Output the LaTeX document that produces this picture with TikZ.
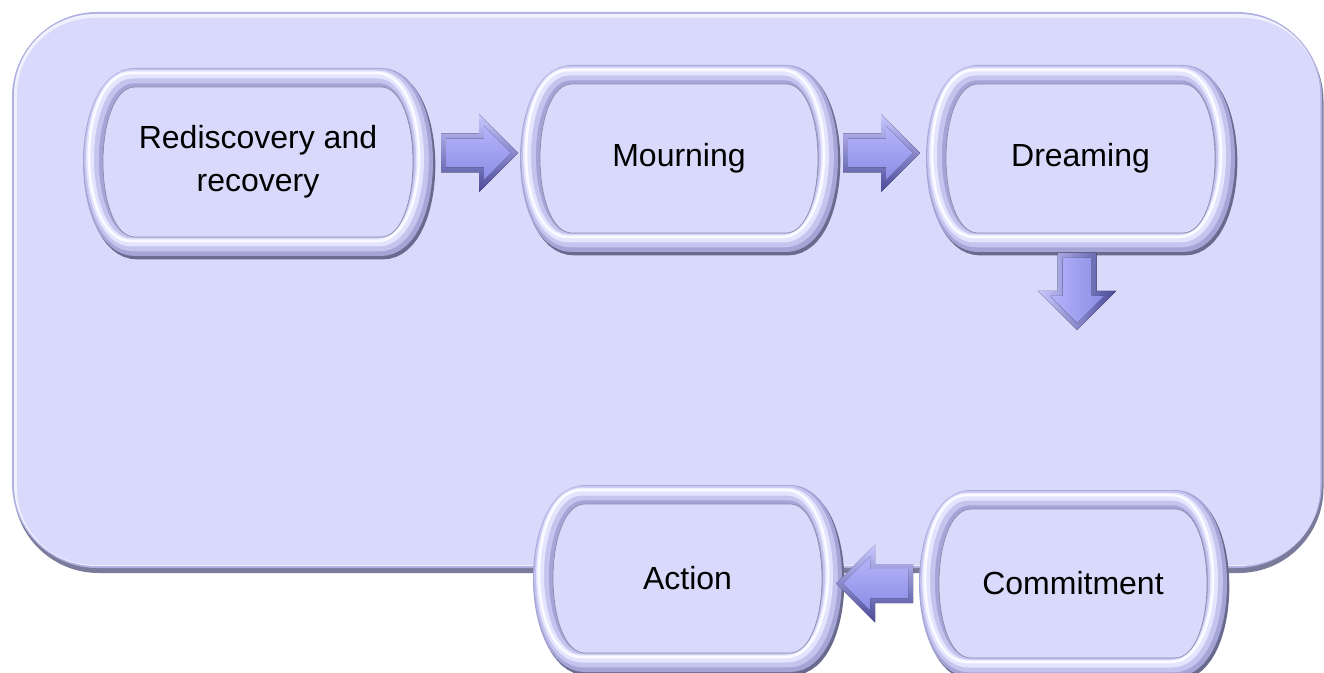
\documentclass[tikz,border=0pt]{standalone}
\usepackage{fontspec}
\setmainfont{Liberation Sans}
\usetikzlibrary{calc}
\definecolor{bgfill}{HTML}{D9D9FC}
\definecolor{bgrim}{HTML}{B0B0E2}
\definecolor{bghigh}{HTML}{F0F0FF}
\definecolor{bgshadow}{HTML}{7A7A9A}
\definecolor{rimshadow}{HTML}{6A6A8E}
\definecolor{rimbase}{HTML}{A4A4D6}
\definecolor{rimmid}{HTML}{C4C4EE}
\definecolor{rimlight}{HTML}{E4E4FF}
\definecolor{facefill}{HTML}{D9D9FC}
\definecolor{faceline}{HTML}{8A8AAA}
\definecolor{arrlight}{HTML}{C8C8FF}
\definecolor{arrdark}{HTML}{4A4A98}
\definecolor{arrfaceA}{HTML}{B4B4FA}
\definecolor{arrfaceB}{HTML}{8C8CE6}
% barrel-shaped box: cx cy hw hh rx options
\newcommand\ERpath[6]{%
  \path[#6] ({(#1)-(#3)+(#5)},{(#2)+(#4)}) -- ({(#1)+(#3)-(#5)},{(#2)+(#4)})
    .. controls ({(#1)+(#3)-0.35*(#5)},{(#2)+(#4)}) and ({(#1)+(#3)},{(#2)+0.5*(#4)}) .. ({(#1)+(#3)},{#2})
    .. controls ({(#1)+(#3)},{(#2)-0.5*(#4)}) and ({(#1)+(#3)-0.35*(#5)},{(#2)-(#4)}) .. ({(#1)+(#3)-(#5)},{(#2)-(#4)})
    -- ({(#1)-(#3)+(#5)},{(#2)-(#4)})
    .. controls ({(#1)-(#3)+0.35*(#5)},{(#2)-(#4)}) and ({(#1)-(#3)},{(#2)-0.5*(#4)}) .. ({(#1)-(#3)},{#2})
    .. controls ({(#1)-(#3)},{(#2)+0.5*(#4)}) and ({(#1)-(#3)+0.35*(#5)},{(#2)+(#4)}) .. cycle;}
\newcommand\bevelbox[4]{%
  \ERpath{(#1)+2}{(#2)-3}{(#3)-10}{(#4)-10}{42}{draw=rimshadow,line width=15.5pt}
  \ERpath{#1}{#2}{(#3)-10}{(#4)-10}{42}{draw=rimbase,line width=15pt}
  \ERpath{(#1)-1.5}{(#2)+2}{(#3)-10}{(#4)-10}{42}{draw=rimmid,line width=11pt}
  \ERpath{(#1)-3}{(#2)+3.5}{(#3)-10}{(#4)-10}{42}{draw=rimlight,line width=6pt}
  \ERpath{(#1)-4}{(#2)+5}{(#3)-10}{(#4)-10}{42}{draw=white,line width=2pt,draw opacity=0.85}
  \ERpath{#1}{#2}{(#3)-20}{(#4)-19}{32}{fill=facefill,draw=faceline,line width=0.5pt}}
% block arrow: tail point, rotation, outer shading, face shading
\newcommand\blockarrow[4]{%
  \begin{scope}[shift={(#1)},rotate=#2]
    \fill[#3] (0,19.5) -- (38,19.5) -- (38,39) -- (77,0) -- (38,-39) -- (38,-19.5) -- (0,-19.5) -- cycle;
    \fill[#4] (5,14.5) -- (43,14.5) -- (43,27) -- (70,0) -- (43,-27) -- (43,-14.5) -- (5,-14.5) -- cycle;
  \end{scope}}
\begin{document}
\begin{tikzpicture}[x=0.75pt,y=0.75pt,
  stepbox/.style={draw=none,inner sep=0pt,outer sep=0pt,align=center,
    font=\fontsize{24}{32}\selectfont},
  harrow/.style={top color=arrlight,bottom color=arrdark},
  harrowface/.style={top color=arrfaceA,bottom color=arrfaceB},
  varrow/.style={left color=arrlight,right color=arrdark},
  varrowface/.style={left color=arrfaceA,right color=arrfaceB}]
\useasboundingbox (0,0) rectangle (1324,672);
\clip (0,0) rectangle (1324,672);
\fill[white] (0,0) rectangle (1324,672);
% background panel
\fill[bgshadow, rounded corners=63.75pt] (13.5,99) rectangle (1323.5,656);
\fill[bgrim, rounded corners=63.75pt] (12,104) rectangle (1322,660);
\fill[bghigh, rounded corners=61pt] (14,106) rectangle (1320,658);
\fill[bgfill, rounded corners=58pt] (17,107) rectangle (1320,654);
% bevelled boxes
\bevelbox{258}{510}{175}{94}
\bevelbox{679}{513.5}{159}{93.5}
\bevelbox{1080.5}{513.5}{154.5}{93.5}
\bevelbox{687.5}{93.5}{154.5}{93.5}
\bevelbox{1073}{88.5}{154}{93.5}
% labelled nodes
\node[stepbox,minimum width=262.5pt,minimum height=141pt] (R) at (258,510) {Rediscovery and\\recovery};
\node[stepbox,minimum width=238.5pt,minimum height=140.25pt] (M) at (679,513.5) {Mourning};
\node[stepbox,minimum width=231.75pt,minimum height=140.25pt] (D) at (1080.5,513.5) {Dreaming};
\node[stepbox,minimum width=231.75pt,minimum height=140.25pt] (A) at (687.5,93.5) {Action};
\node[stepbox,minimum width=231pt,minimum height=140.25pt] (C) at (1073,88.5) {Commitment};
% block arrows
\blockarrow{$(R.east)+(8,9)$}{0}{harrow}{harrowface}
\blockarrow{$(M.east)+(5,5.5)$}{0}{harrow}{harrowface}
\blockarrow{$(D.south)+(-3.5,-1)$}{-90}{varrow}{varrowface}
\blockarrow{$(C.west)+(-6,0)$}{180}{harrow}{harrowface}
\end{tikzpicture}
\end{document}
